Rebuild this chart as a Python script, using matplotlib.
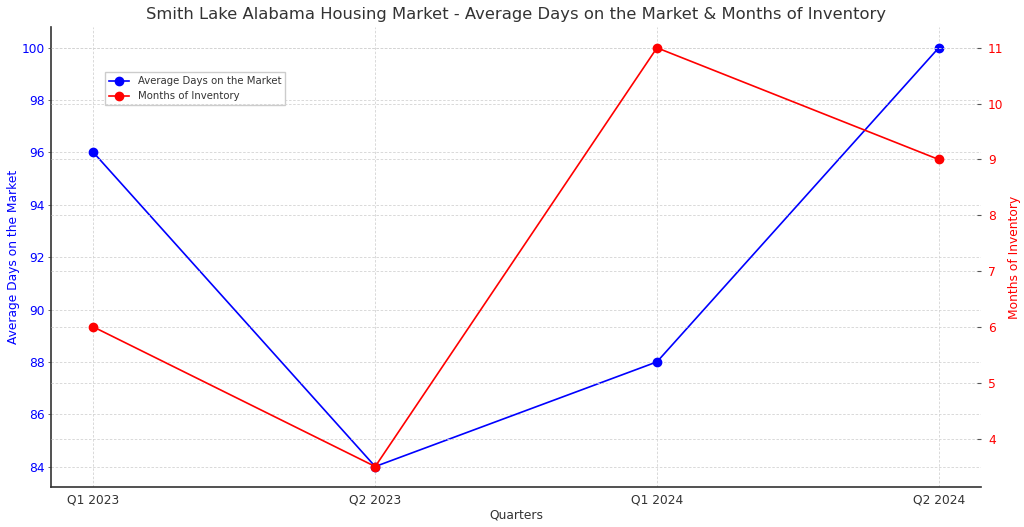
import matplotlib.pyplot as plt

quarters = ['Q1 2023', 'Q2 2023', 'Q1 2024', 'Q2 2024']
avg_days = [96, 84, 88, 100]
months_inventory = [6, 3.5, 11, 9]

plt.rcParams['font.family'] = 'DejaVu Sans'

fig, ax1 = plt.subplots(figsize=(10.24, 5.27), dpi=100)
fig.subplots_adjust(left=0.05, right=0.958, top=0.949, bottom=0.075)

fs = 8.8
ax1.plot(quarters, avg_days, color='blue', marker='o', markersize=6, linewidth=1.2,
         label='Average Days on the Market')
ax1.set_xlabel('Quarters', color='#333333', fontsize=fs, labelpad=2)
ax1.set_ylabel('Average Days on the Market', color='blue', fontsize=fs, labelpad=1)
ax1.tick_params(axis='y', labelcolor='blue', color='#555555', labelsize=fs, length=2.5, width=0.6, pad=2)
ax1.tick_params(axis='x', colors='#333333', labelsize=fs, length=0, pad=4)
ax1.grid(True, linestyle=(0, (3, 2)), color='#d3d3d3', linewidth=0.6)
for s in ['top', 'right']:
    ax1.spines[s].set_visible(False)
for s in ['left', 'bottom']:
    ax1.spines[s].set_color('#333333')
    ax1.spines[s].set_linewidth(1.2)

ax2 = ax1.twinx()
ax2.plot(quarters, months_inventory, color='red', marker='o', markersize=6, linewidth=1.2,
         label='Months of Inventory')
ax2.set_ylabel('Months of Inventory', color='red', fontsize=fs, labelpad=3)
ax2.tick_params(axis='y', labelcolor='red', color='#555555', labelsize=fs, length=3, width=0.8,
                pad=5, direction='in')
ax2.grid(True, linestyle=(0, (3, 2)), color='#d3d3d3', linewidth=0.6)
for s in ['top', 'right', 'left', 'bottom']:
    ax2.spines[s].set_visible(False)

plt.title('Smith Lake Alabama Housing Market - Average Days on the Market & Months of Inventory',
          color='#333333', fontsize=11.8)

h1, l1 = ax1.get_legend_handles_labels()
h2, l2 = ax2.get_legend_handles_labels()
leg = ax1.legend(h1 + h2, l1 + l2, loc='upper left', bbox_to_anchor=(0.058, 0.902),
                 borderaxespad=0, fontsize=7.3, framealpha=1, fancybox=False)
leg.get_frame().set_edgecolor('#cccccc')
for t in leg.get_texts():
    t.set_color('#333333')

fig.savefig('out.png')
